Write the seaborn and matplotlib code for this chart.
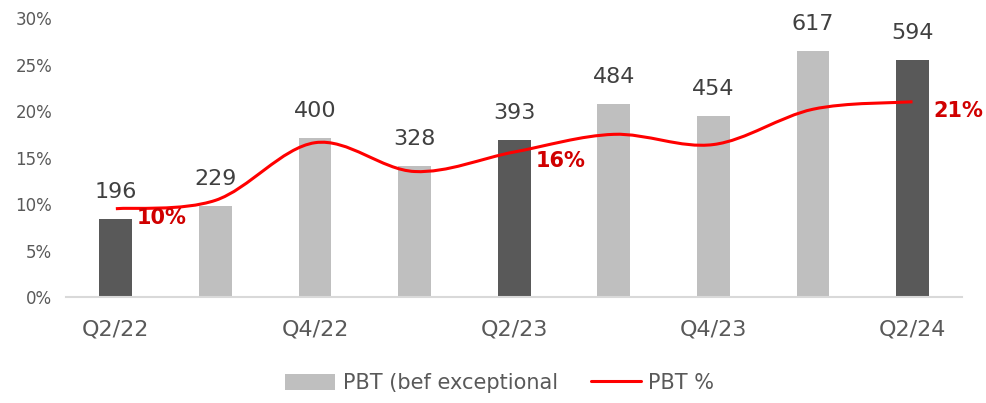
import numpy as np
import pandas as pd
import seaborn as sns
import matplotlib.pyplot as plt
from matplotlib.path import Path
from matplotlib.patches import PathPatch, Patch
from matplotlib.lines import Line2D

# Data
quarters = ['Q2/22', 'Q3/22', 'Q4/22', 'Q1/23', 'Q2/23', 'Q3/23', 'Q4/23', 'Q1/24', 'Q2/24']
pbt = [196, 229, 400, 328, 393, 484, 454, 617, 594]
pbt_pct = [0.095, 0.104, 0.166, 0.135, 0.156, 0.175, 0.164, 0.202, 0.210]
pct_labels = {0: '10%', 4: '16%', 8: '21%'}
tick_labels = ['Q2/22', '', 'Q4/22', '', 'Q2/23', '', 'Q4/23', '', 'Q2/24']

DARK = '#595959'
LIGHT = '#bfbfbf'
RED = '#ff0000'
TXT = '#595959'

df = pd.DataFrame({'quarter': quarters, 'pbt': pbt, 'pct': pbt_pct})
palette = {q: (DARK if q.startswith('Q2') else LIGHT) for q in quarters}

sns.set_theme(style='white')
plt.rcParams['font.family'] = ['DejaVu Sans']

fig = plt.figure(figsize=(9.86, 4.03), dpi=100)
ax = fig.add_axes([0.067, 0.263, 0.909, 0.692])

# bars (hidden scale 0-700)
sns.barplot(data=df, x='quarter', y='pbt', hue='quarter', palette=palette,
            width=0.33, legend=False, ax=ax, saturation=1, linewidth=0)
ax.set_ylim(0, 700)
ax.set_xlim(-0.5, len(quarters) - 0.5)
ax.set_yticks([])
ax.set_ylabel('')
ax.set_xlabel('')
for i, v in enumerate(pbt):
    ax.annotate(str(v), (i, v), xytext=(0, 17), textcoords='offset pixels',
                ha='center', va='bottom', fontsize=16, color='#404040')

for s in ['top', 'right', 'left']:
    ax.spines[s].set_visible(False)
ax.spines['bottom'].set_color('#d9d9d9')
ax.spines['bottom'].set_linewidth(1.5)

ax.set_xticks(range(len(quarters)))
ax.set_xticklabels(tick_labels, fontsize=16, color=TXT)
ax.set_xticks(np.arange(-0.5, len(quarters)), minor=True)
ax.tick_params(axis='x', which='major', length=0, pad=16)
ax.tick_params(axis='x', which='minor', length=6, width=1.5, color='#d9d9d9', direction='out')

# line on twin axis, percent scale on the left
ax2 = ax.twinx()
ax2.set_ylim(0, 0.30)
ax2.yaxis.tick_left()
ax2.set_yticks(np.arange(0, 0.31, 0.05))
ax2.set_yticklabels([f'{int(round(t * 100))}%' for t in np.arange(0, 0.31, 0.05)],
                    fontsize=12, color=TXT)
ax2.tick_params(axis='y', length=0, pad=10)
for s in ax2.spines.values():
    s.set_visible(False)

# smoothed line (Bezier through the points, like a spreadsheet smoothed line)
x = np.arange(len(pbt_pct), dtype=float)
y = np.array(pbt_pct)
verts = [(x[0], y[0])]
codes = [Path.MOVETO]
n = len(x)
for i in range(n - 1):
    p0 = (x[max(i - 1, 0)], y[max(i - 1, 0)])
    p1 = (x[i], y[i])
    p2 = (x[i + 1], y[i + 1])
    p3 = (x[min(i + 2, n - 1)], y[min(i + 2, n - 1)])
    c1 = (p1[0] + (p2[0] - p0[0]) / 6, p1[1] + (p2[1] - p0[1]) / 6)
    c2 = (p2[0] - (p3[0] - p1[0]) / 6, p2[1] - (p3[1] - p1[1]) / 6)
    verts += [c1, c2, p2]
    codes += [Path.CURVE4] * 3
ax2.add_patch(PathPatch(Path(verts, codes), facecolor='none', edgecolor=RED, lw=2.2))

for i, lab in pct_labels.items():
    ax2.annotate(lab, (i, pbt_pct[i]), xytext=(46, -9), textcoords='offset pixels',
                 ha='center', va='center', fontsize=15, fontweight='bold', color='#d00000')

handles = [Patch(facecolor=LIGHT, edgecolor='none'), Line2D([], [], color=RED, lw=2.2)]
fig.legend(handles, ['PBT (bef exceptional', 'PBT %'], loc='center', ncol=2,
           bbox_to_anchor=(0.507, 0.05), frameon=False, fontsize=15,
           handlelength=2.4, handleheight=0.8, columnspacing=1.6, handletextpad=0.35,
           labelcolor=TXT)

fig.savefig('out.png', dpi=100)
